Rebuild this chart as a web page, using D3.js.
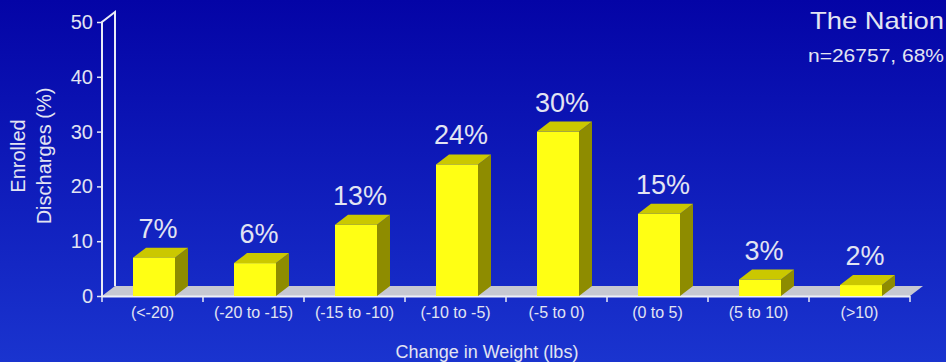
<!DOCTYPE html>
<html>
<head>
<meta charset="utf-8">
<script src="https://cdn.jsdelivr.net/npm/d3@7"></script>
<style>
  html, body { margin: 0; padding: 0; background: #0a0aa8; }
  svg { display: block; font-family: "Liberation Sans", Arial, sans-serif; }
</style>
</head>
<body>
<div id="chart"></div>
<script>
const categories = ["(<-20)", "(-20 to -15)", "(-15 to -10)", "(-10 to -5)", "(-5 to 0)", "(0 to 5)", "(5 to 10)", "(>10)"];
const values = [7, 6, 13, 24, 30, 15, 3, 2];
const yTicks = [0, 10, 20, 30, 40, 50];

const fullWidth = 946, fullHeight = 362;
const depth = { dx: 13, dy: -10 };
const textColor = "#e2e4f2";

const svg = d3.select("#chart").append("svg")
  .attr("width", fullWidth)
  .attr("height", fullHeight);

const grad = svg.append("defs").append("linearGradient")
  .attr("id", "bg")
  .attr("x1", 0).attr("y1", 0).attr("x2", 0).attr("y2", 1);
grad.append("stop").attr("offset", "0%").attr("stop-color", "#0404a6");
grad.append("stop").attr("offset", "100%").attr("stop-color", "#1a34cf");

svg.append("rect")
  .attr("width", fullWidth)
  .attr("height", fullHeight)
  .attr("fill", "url(#bg)");

const x = d3.scaleBand().domain(categories).range([102, 910]).padding(0);
const y = d3.scaleLinear().domain([0, 50]).range([296, 22]);

// floor
const x0 = x.range()[0], x1 = x.range()[1], y0 = y(0);
svg.append("path")
  .attr("d", `M${x0},${y0}L${x1},${y0}L${x1 + depth.dx},${y0 + depth.dy}L${x0 + depth.dx},${y0 + depth.dy}Z`)
  .attr("fill", "#c6c8d2");
svg.append("line")
  .attr("x1", x0).attr("x2", x1)
  .attr("y1", y0 + 0.5).attr("y2", y0 + 0.5)
  .attr("stroke", "#eef0f8").attr("stroke-width", 2);

// left wall
const yTop = y(50);
svg.append("path")
  .attr("d", `M${x0},${y0}L${x0},${yTop}L${x0 + depth.dx},${yTop + depth.dy}L${x0 + depth.dx},${y0 + depth.dy}`)
  .attr("fill", "none")
  .attr("stroke", "#e8eaf6")
  .attr("stroke-width", 2);

// y axis
const yAxis = svg.append("g")
  .attr("transform", `translate(${x0},0)`)
  .call(d3.axisLeft(y).tickValues(yTicks).tickSize(5).tickPadding(4));
yAxis.select(".domain").remove();
yAxis.selectAll("line").attr("stroke", "#e8eaf6").attr("stroke-width", 1.5);
yAxis.selectAll("text")
  .attr("fill", textColor)
  .style("font-size", "20px")
  .style("font-family", "'Liberation Sans', Arial, sans-serif");

// x axis ticks and labels
const xAxis = svg.append("g")
  .attr("transform", `translate(0,${y0})`);
xAxis.selectAll("line.tick")
  .data(d3.range(categories.length + 1))
  .join("line")
  .attr("class", "tick")
  .attr("x1", i => x0 + i * x.step())
  .attr("x2", i => x0 + i * x.step())
  .attr("y1", 0).attr("y2", 6)
  .attr("stroke", "#e8eaf6").attr("stroke-width", 1.5);
xAxis.selectAll("text")
  .data(categories)
  .join("text")
  .attr("x", d => x(d) + x.bandwidth() / 2)
  .attr("y", 22)
  .attr("text-anchor", "middle")
  .attr("fill", textColor)
  .style("font-size", "16px")
  .text(d => d);

// bars
const barW = 42, barOff = 31;
const bars = svg.append("g").selectAll("g")
  .data(categories.map((c, i) => ({ cat: c, val: values[i] })))
  .join("g");

bars.append("path") // side
  .attr("d", d => {
    const bx = x(d.cat) + barOff + barW, by = y(d.val);
    return `M${bx},${y0}L${bx},${by}L${bx + depth.dx},${by + depth.dy}L${bx + depth.dx},${y0 + depth.dy}Z`;
  })
  .attr("fill", "#8e8c00");

bars.append("path") // top
  .attr("d", d => {
    const bx = x(d.cat) + barOff, by = y(d.val);
    return `M${bx},${by}L${bx + barW},${by}L${bx + barW + depth.dx},${by + depth.dy}L${bx + depth.dx},${by + depth.dy}Z`;
  })
  .attr("fill", "#cbc800");

bars.append("rect") // front
  .attr("x", d => x(d.cat) + barOff)
  .attr("y", d => y(d.val))
  .attr("width", barW)
  .attr("height", d => y0 - y(d.val))
  .attr("fill", "#ffff14");

bars.append("text")
  .attr("x", d => x(d.cat) + barOff + barW / 2 + 4)
  .attr("y", d => y(d.val) - 20)
  .attr("text-anchor", "middle")
  .attr("fill", textColor)
  .style("font-size", "27px")
  .text(d => d.val + "%");

// axis titles
svg.append("text")
  .attr("x", 487)
  .attr("y", 358)
  .attr("text-anchor", "middle")
  .attr("fill", textColor)
  .style("font-size", "18px")
  .text("Change in Weight (lbs)");

const yTitle = svg.append("text")
  .attr("transform", "translate(0,156) rotate(-90)")
  .attr("text-anchor", "middle")
  .attr("fill", textColor)
  .style("font-size", "20px");
yTitle.append("tspan").attr("x", 0).attr("y", 25).text("Enrolled");
yTitle.append("tspan").attr("x", 0).attr("y", 51).text("Discharges (%)");

// corner title
svg.append("text")
  .attr("x", 944)
  .attr("y", 29)
  .attr("text-anchor", "end")
  .attr("fill", textColor)
  .style("font-size", "24px")
  .attr("textLength", 134)
  .attr("lengthAdjust", "spacingAndGlyphs")
  .text("The Nation");

svg.append("text")
  .attr("x", 944)
  .attr("y", 62)
  .attr("text-anchor", "end")
  .attr("fill", textColor)
  .style("font-size", "18px")
  .attr("textLength", 136)
  .attr("lengthAdjust", "spacingAndGlyphs")
  .text("n=26757, 68%");
</script>
</body>
</html>
